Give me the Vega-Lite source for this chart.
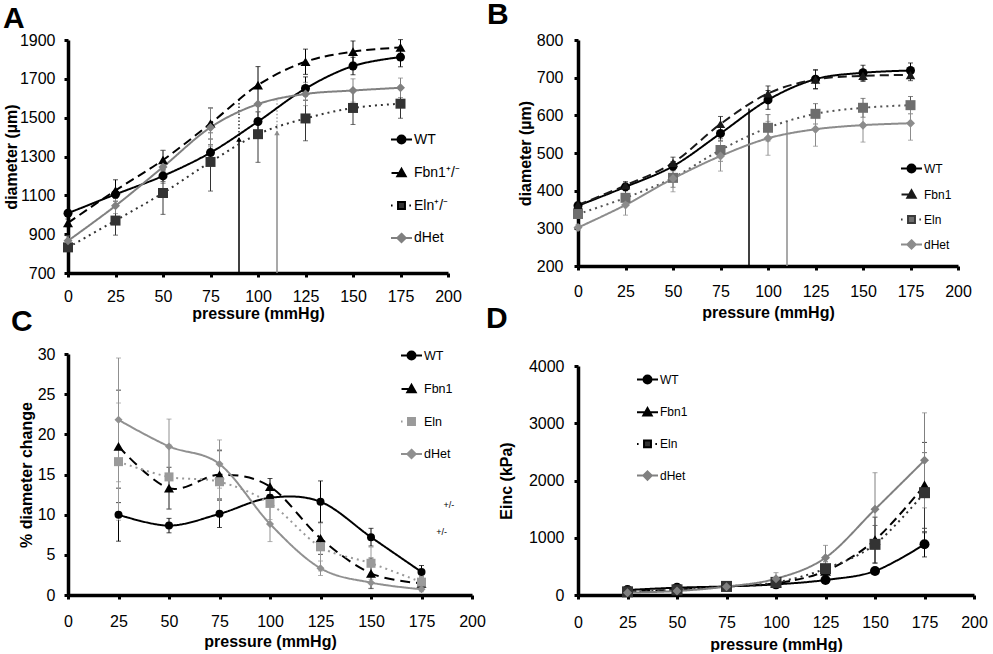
{
"$schema":"https://vega.github.io/schema/vega-lite/v6.json",
"background":"white",
"padding":{"left":3,"top":0,"right":0,"bottom":0},
"datasets":{
"a":[
{"s":"WT","p":0,"v":1008,"e":15},{"s":"WT","p":25,"v":1105,"e":20},{"s":"WT","p":50,"v":1200,"e":30},{"s":"WT","p":75,"v":1320,"e":40},{"s":"WT","p":100,"v":1480,"e":50},{"s":"WT","p":125,"v":1650,"e":60},{"s":"WT","p":150,"v":1766,"e":45},{"s":"WT","p":175,"v":1812,"e":50},
{"s":"Fbn1","p":0,"v":958,"e":20},{"s":"Fbn1","p":25,"v":1125,"e":55},{"s":"Fbn1","p":50,"v":1282,"e":50},{"s":"Fbn1","p":75,"v":1470,"e":80},{"s":"Fbn1","p":100,"v":1668,"e":95},{"s":"Fbn1","p":125,"v":1788,"e":65},{"s":"Fbn1","p":150,"v":1840,"e":55},{"s":"Fbn1","p":175,"v":1862,"e":40},
{"s":"Eln","p":0,"v":832,"e":20},{"s":"Eln","p":25,"v":970,"e":75},{"s":"Eln","p":50,"v":1112,"e":110},{"s":"Eln","p":75,"v":1272,"e":150},{"s":"Eln","p":100,"v":1415,"e":145},{"s":"Eln","p":125,"v":1496,"e":115},{"s":"Eln","p":150,"v":1550,"e":85},{"s":"Eln","p":175,"v":1572,"e":75},
{"s":"dHet","p":0,"v":866,"e":25},{"s":"dHet","p":25,"v":1046,"e":40},{"s":"dHet","p":50,"v":1246,"e":85},{"s":"dHet","p":75,"v":1450,"e":100},{"s":"dHet","p":100,"v":1570,"e":80},{"s":"dHet","p":125,"v":1622,"e":60},{"s":"dHet","p":150,"v":1640,"e":60},{"s":"dHet","p":175,"v":1654,"e":50}
],
"b":[
{"s":"WT","p":0,"v":360,"e":8},{"s":"WT","p":25,"v":410,"e":10},{"s":"WT","p":50,"v":465,"e":12},{"s":"WT","p":75,"v":552,"e":20},{"s":"WT","p":100,"v":641,"e":25},{"s":"WT","p":125,"v":696,"e":25},{"s":"WT","p":150,"v":713,"e":20},{"s":"WT","p":175,"v":719,"e":20},
{"s":"Fbn1","p":0,"v":362,"e":8},{"s":"Fbn1","p":25,"v":414,"e":10},{"s":"Fbn1","p":50,"v":474,"e":15},{"s":"Fbn1","p":75,"v":577,"e":20},{"s":"Fbn1","p":100,"v":658,"e":20},{"s":"Fbn1","p":125,"v":695,"e":25},{"s":"Fbn1","p":150,"v":705,"e":15},{"s":"Fbn1","p":175,"v":707,"e":15},
{"s":"Eln","p":0,"v":338,"e":10},{"s":"Eln","p":25,"v":381,"e":20},{"s":"Eln","p":50,"v":434,"e":25},{"s":"Eln","p":75,"v":508,"e":30},{"s":"Eln","p":100,"v":567,"e":35},{"s":"Eln","p":125,"v":604,"e":27},{"s":"Eln","p":150,"v":620,"e":25},{"s":"Eln","p":175,"v":627,"e":23},
{"s":"dHet","p":0,"v":302,"e":8},{"s":"dHet","p":25,"v":362,"e":27},{"s":"dHet","p":50,"v":432,"e":35},{"s":"dHet","p":75,"v":492,"e":40},{"s":"dHet","p":100,"v":539,"e":45},{"s":"dHet","p":125,"v":563,"e":45},{"s":"dHet","p":150,"v":574,"e":45},{"s":"dHet","p":175,"v":579,"e":45}
],
"c":[
{"s":"WT","p":25,"v":10.0,"e":3.3},{"s":"WT","p":50,"v":8.64,"e":0.9},{"s":"WT","p":75,"v":10.1,"e":1.7},{"s":"WT","p":100,"v":12.1,"e":1.0},{"s":"WT","p":125,"v":11.6,"e":2.6},{"s":"WT","p":150,"v":7.2,"e":1.1},{"s":"WT","p":175,"v":2.87,"e":0.8},
{"s":"Fbn1","p":25,"v":18.5,"e":7.0},{"s":"Fbn1","p":50,"v":13.3,"e":2.6},{"s":"Fbn1","p":75,"v":14.96,"e":3.0},{"s":"Fbn1","p":100,"v":13.5,"e":1.0},{"s":"Fbn1","p":125,"v":7.06,"e":2.0},{"s":"Fbn1","p":150,"v":2.7,"e":1.9},{"s":"Fbn1","p":175,"v":1.45,"e":0.8},
{"s":"Eln","p":25,"v":16.6,"e":7.3},{"s":"Eln","p":50,"v":14.7,"e":4.0},{"s":"Eln","p":75,"v":14.1,"e":4.0},{"s":"Eln","p":100,"v":11.4,"e":2.0},{"s":"Eln","p":125,"v":6.0,"e":3.0},{"s":"Eln","p":150,"v":3.95,"e":2.0},{"s":"Eln","p":175,"v":1.6,"e":1.0},
{"s":"dHet","p":25,"v":21.8,"e":7.7},{"s":"dHet","p":50,"v":18.5,"e":3.4},{"s":"dHet","p":75,"v":16.3,"e":3.0},{"s":"dHet","p":100,"v":8.85,"e":2.2},{"s":"dHet","p":125,"v":3.33,"e":0.9},{"s":"dHet","p":150,"v":1.54,"e":0.7},{"s":"dHet","p":175,"v":0.71,"e":0.3}
],
"d":[
{"s":"WT","p":25,"v":87,"e":15},{"s":"WT","p":50,"v":128,"e":20},{"s":"WT","p":75,"v":150,"e":20},{"s":"WT","p":100,"v":186,"e":30},{"s":"WT","p":125,"v":262,"e":40},{"s":"WT","p":150,"v":419,"e":60},{"s":"WT","p":175,"v":885,"e":220},
{"s":"Fbn1","p":25,"v":60,"e":10},{"s":"Fbn1","p":50,"v":95,"e":15},{"s":"Fbn1","p":75,"v":150,"e":20},{"s":"Fbn1","p":100,"v":205,"e":40},{"s":"Fbn1","p":125,"v":420,"e":100},{"s":"Fbn1","p":150,"v":960,"e":400},{"s":"Fbn1","p":175,"v":1915,"e":750},
{"s":"Eln","p":25,"v":55,"e":10},{"s":"Eln","p":50,"v":90,"e":15},{"s":"Eln","p":75,"v":150,"e":20},{"s":"Eln","p":100,"v":220,"e":50},{"s":"Eln","p":125,"v":460,"e":120},{"s":"Eln","p":150,"v":885,"e":330},{"s":"Eln","p":175,"v":1787,"e":700},
{"s":"dHet","p":25,"v":40,"e":10},{"s":"dHet","p":50,"v":70,"e":15},{"s":"dHet","p":75,"v":146,"e":20},{"s":"dHet","p":100,"v":285,"e":105},{"s":"dHet","p":125,"v":652,"e":215},{"s":"dHet","p":150,"v":1496,"e":640},{"s":"dHet","p":175,"v":2352,"e":830}
],
"arrA":[{"s":"WT","p":90,"v":700,"v2":1388},{"s":"dHet","p":110,"v":700,"v2":1422}],
"arrAdot":[{"s":"WT","p":90,"v":1388,"v2":1600},{"s":"dHet","p":110,"v":1422,"v2":1588}],
"arrB":[{"s":"WT","p":90,"v":200,"v2":618},{"s":"dHet","p":110,"v":200,"v2":585}],
"notesC":[{"p":188.5,"v":11.2,"t":"+/-"},{"p":185,"v":7.8,"t":"+/-"}]
},
"hconcat":[
{"vconcat":[
{
"width":380,"height":233,
"title":{"text":"A","dx":-65,"offset":-2},
"data":{"name":"a"},
"encoding":{
"x":{"field":"p","type":"quantitative","scale":{"domain":[0,200],"nice":false},"axis":{"values":[0,25,50,75,100,125,150,175,200],"format":"d","title":"pressure (mmHg)","labelPadding":11,"titlePadding":1}},
"y":{"field":"v","type":"quantitative","scale":{"domain":[700,1900],"nice":false,"zero":false},"axis":{"values":[700,900,1100,1300,1500,1700,1900],"format":"d","title":"diameter (µm)","labelPadding":9,"titlePadding":0}}
},
"layer":[
{"mark":{"type":"errorbar","ticks":{"size":5},"thickness":1},"encoding":{"yError":{"field":"e"},"color":{"field":"s","type":"nominal","scale":{"range":["#333333","#000000","#000000","#808080"]},"legend":null}}},
{"data":{"name":"arrA"},"transform":[{"filter":"datum.s=='WT'"}],"mark":{"type":"rule","color":"#000000","strokeWidth":1.5},"encoding":{"y2":{"field":"v2"}}},
{"data":{"name":"arrA"},"transform":[{"filter":"datum.s=='dHet'"}],"mark":{"type":"rule","color":"#8c8c8c","strokeWidth":1.5},"encoding":{"y2":{"field":"v2"}}},
{"data":{"name":"arrAdot"},"transform":[{"filter":"datum.s=='WT'"}],"mark":{"type":"rule","color":"#000000","strokeWidth":1.2,"strokeDash":[1.5,2]},"encoding":{"y2":{"field":"v2"}}},
{"data":{"name":"arrAdot"},"transform":[{"filter":"datum.s=='dHet'"}],"mark":{"type":"rule","color":"#8c8c8c","strokeWidth":1.2,"strokeDash":[1.5,2]},"encoding":{"y2":{"field":"v2"}}},
{"data":{"name":"arrAdot"},"transform":[{"filter":"datum.s=='WT'"}],"mark":{"type":"point","shape":"triangle-up","filled":true,"color":"#000000","size":30,"opacity":1}},
{"data":{"name":"arrAdot"},"transform":[{"filter":"datum.s=='dHet'"}],"mark":{"type":"point","shape":"triangle-up","filled":true,"color":"#8c8c8c","size":30,"opacity":1}},
{"mark":{"type":"line","interpolate":"cardinal","strokeWidth":2},"encoding":{"color":{"field":"s","type":"nominal","scale":{"range":["#333333","#000000","#000000","#808080"]},"legend":null},"strokeDash":{"field":"s","type":"nominal","scale":{"range":[[2,4],[9,5],[1,0],[1,0]]},"legend":null}}},
{"transform":[{"filter":"datum.s=='WT'"}],"mark":{"type":"point","shape":"circle","filled":true,"color":"#000000","size":81,"opacity":1}},
{"transform":[{"filter":"datum.s=='Fbn1'"}],"mark":{"type":"point","shape":"triangle-up","filled":true,"color":"#000000","size":100,"opacity":1}},
{"transform":[{"filter":"datum.s=='Eln'"}],"mark":{"type":"point","shape":"square","filled":true,"color":"#333333","size":100,"opacity":1}},
{"transform":[{"filter":"datum.s=='dHet'"}],"mark":{"type":"point","shape":"diamond","filled":true,"color":"#808080","size":81,"opacity":1}},
{"mark":{"type":"point","opacity":0,"filled":true},"encoding":{
"fill":{"field":"s","type":"nominal","scale":{"domain":["WT","Fbn1","Eln","dHet"],"range":["#000000","#000000","#333333","#808080"]},"legend":{"orient":"none","legendX":322,"legendY":88,"title":null,"symbolSize":441,"labelFontSize":14,"rowPadding":13.5,"labelExpr":"datum.label=='Fbn1'?'Fbn1⁺/⁻':datum.label=='Eln'?'Eln⁺/⁻':datum.label"}},
"stroke":{"field":"s","type":"nominal","scale":{"domain":["WT","Fbn1","Eln","dHet"],"range":["#000000","#000000","#000000","#808080"]},"legend":{"orient":"none","legendX":322,"legendY":88,"title":null,"symbolSize":441,"labelFontSize":14,"rowPadding":13.5,"labelExpr":"datum.label=='Fbn1'?'Fbn1⁺/⁻':datum.label=='Eln'?'Eln⁺/⁻':datum.label"}},
"shape":{"field":"s","type":"nominal","scale":{"domain":["WT","Fbn1","Eln","dHet"],"range":["M-1,0H1M-0.38,0A0.38,0.38,0,1,0,0.38,0A0.38,0.38,0,1,0,-0.38,0Z","M-0.95,0H-0.3M-0.4,0.32L0,-0.4L0.4,0.32Z","M-1,0H-0.85M-0.33,-0.33H0.33V0.33H-0.33ZM0.75,0H0.9","M-1,0H1M0,-0.4L0.4,0L0,0.4L-0.4,0Z"]},"legend":{"orient":"none","legendX":322,"legendY":88,"title":null,"symbolSize":441,"labelFontSize":14,"rowPadding":13.5,"labelExpr":"datum.label=='Fbn1'?'Fbn1⁺/⁻':datum.label=='Eln'?'Eln⁺/⁻':datum.label"}}
}}
]
},
{
"width":404,"height":241,
"title":{"text":"C","dx":-57,"offset":7},
"data":{"name":"c"},
"encoding":{
"x":{"field":"p","type":"quantitative","scale":{"domain":[0,200],"nice":false},"axis":{"values":[0,25,50,75,100,125,150,175,200],"format":"d","title":"pressure (mmHg)","labelPadding":14,"titlePadding":4}},
"y":{"field":"v","type":"quantitative","scale":{"domain":[0,30],"nice":false,"zero":false},"axis":{"values":[0,5,10,15,20,25,30],"format":"d","title":"% diameter change","labelPadding":9,"titlePadding":3}}
},
"layer":[
{"mark":{"type":"errorbar","ticks":{"size":5},"thickness":1},"encoding":{"yError":{"field":"e"},"color":{"field":"s","type":"nominal","scale":{"range":["#9a9a9a","#000000","#000000","#909090"]},"legend":null}}},
{"mark":{"type":"line","interpolate":"cardinal","strokeWidth":2},"encoding":{"color":{"field":"s","type":"nominal","scale":{"range":["#9a9a9a","#000000","#000000","#909090"]},"legend":null},"strokeDash":{"field":"s","type":"nominal","scale":{"range":[[2,4],[10,6],[1,0],[1,0]]},"legend":null}}},
{"transform":[{"filter":"datum.s=='WT'"}],"mark":{"type":"point","shape":"circle","filled":true,"color":"#000000","size":64,"opacity":1}},
{"transform":[{"filter":"datum.s=='Fbn1'"}],"mark":{"type":"point","shape":"triangle-up","filled":true,"color":"#000000","size":100,"opacity":1}},
{"transform":[{"filter":"datum.s=='Eln'"}],"mark":{"type":"point","shape":"square","filled":true,"color":"#9a9a9a","size":81,"opacity":1}},
{"transform":[{"filter":"datum.s=='dHet'"}],"mark":{"type":"point","shape":"diamond","filled":true,"color":"#909090","size":64,"opacity":1}},
{"data":{"name":"notesC"},"mark":{"type":"text","fontSize":9,"color":"#000000","font":"Liberation Sans"},"encoding":{"text":{"field":"t"}}},
{"mark":{"type":"point","opacity":0,"filled":true},"encoding":{
"fill":{"field":"s","type":"nominal","scale":{"domain":["WT","Fbn1","Eln","dHet"],"range":["#000000","#000000","#9a9a9a","#909090"]},"legend":{"orient":"none","legendX":332,"legendY":-10,"title":null,"symbolSize":441,"labelFontSize":12.5,"rowPadding":13.5}},
"stroke":{"field":"s","type":"nominal","scale":{"domain":["WT","Fbn1","Eln","dHet"],"range":["#000000","#000000","#9a9a9a","#909090"]},"legend":{"orient":"none","legendX":332,"legendY":-10,"title":null,"symbolSize":441,"labelFontSize":12.5,"rowPadding":13.5}},
"shape":{"field":"s","type":"nominal","scale":{"domain":["WT","Fbn1","Eln","dHet"],"range":["M-1,0H1M-0.38,0A0.38,0.38,0,1,0,0.38,0A0.38,0.38,0,1,0,-0.38,0Z","M-0.95,0H-0.3M-0.4,0.32L0,-0.4L0.4,0.32Z","M-1,0H-0.85M-0.33,-0.33H0.33V0.33H-0.33Z","M-1,0H1M0,-0.4L0.4,0L0,0.4L-0.4,0Z"]},"legend":{"orient":"none","legendX":332,"legendY":-10,"title":null,"symbolSize":441,"labelFontSize":12.5,"rowPadding":13.5}}
}}
]
}
],"spacing":-14,"align":"none",
"resolve":{"scale":{"color":"independent","fill":"independent","stroke":"independent","shape":"independent","strokeDash":"independent"},"legend":{"fill":"independent","stroke":"independent","shape":"independent"}}},
{"vconcat":[
{
"width":380,"height":226,
"title":{"text":"B","dx":-91,"offset":2},
"data":{"name":"b"},
"encoding":{
"x":{"field":"p","type":"quantitative","scale":{"domain":[0,200],"nice":false},"axis":{"values":[0,25,50,75,100,125,150,175,200],"format":"d","title":"pressure (mmHg)","labelPadding":13,"titlePadding":5}},
"y":{"field":"v","type":"quantitative","scale":{"domain":[200,800],"nice":false,"zero":false},"axis":{"values":[200,300,400,500,600,700,800],"format":"d","title":"diameter (µm)","labelPadding":11,"titlePadding":3}}
},
"layer":[
{"mark":{"type":"errorbar","ticks":{"size":5},"thickness":1},"encoding":{"yError":{"field":"e"},"color":{"field":"s","type":"nominal","scale":{"range":["#555555","#1a1a1a","#000000","#8c8c8c"]},"legend":null}}},
{"data":{"name":"arrB"},"transform":[{"filter":"datum.s=='WT'"}],"mark":{"type":"rule","color":"#000000","strokeWidth":1.5},"encoding":{"y2":{"field":"v2"}}},
{"data":{"name":"arrB"},"transform":[{"filter":"datum.s=='dHet'"}],"mark":{"type":"rule","color":"#8c8c8c","strokeWidth":1.5},"encoding":{"y2":{"field":"v2"}}},
{"mark":{"type":"line","interpolate":"cardinal","strokeWidth":2},"encoding":{"color":{"field":"s","type":"nominal","scale":{"range":["#555555","#1a1a1a","#000000","#8c8c8c"]},"legend":null},"strokeDash":{"field":"s","type":"nominal","scale":{"range":[[2,4],[9,5],[1,0],[1,0]]},"legend":null}}},
{"transform":[{"filter":"datum.s=='WT'"}],"mark":{"type":"point","shape":"circle","filled":true,"color":"#000000","size":81,"opacity":1}},
{"transform":[{"filter":"datum.s=='Fbn1'"}],"mark":{"type":"point","shape":"triangle-up","filled":true,"color":"#1a1a1a","size":90,"opacity":1}},
{"transform":[{"filter":"datum.s=='Eln'"}],"mark":{"type":"point","shape":"square","filled":true,"color":"#6e6e6e","size":100,"opacity":1}},
{"transform":[{"filter":"datum.s=='dHet'"}],"mark":{"type":"point","shape":"diamond","filled":true,"color":"#8c8c8c","size":81,"opacity":1}},
{"mark":{"type":"point","opacity":0,"filled":true},"encoding":{
"fill":{"field":"s","type":"nominal","scale":{"domain":["WT","Fbn1","Eln","dHet"],"range":["#000000","#1a1a1a","#6e6e6e","#8c8c8c"]},"legend":{"orient":"none","legendX":322,"legendY":117,"title":null,"symbolSize":441,"labelFontSize":12,"rowPadding":6}},
"stroke":{"field":"s","type":"nominal","scale":{"domain":["WT","Fbn1","Eln","dHet"],"range":["#000000","#1a1a1a","#3a3a3a","#8c8c8c"]},"legend":{"orient":"none","legendX":322,"legendY":117,"title":null,"symbolSize":441,"labelFontSize":12,"rowPadding":6}},
"shape":{"field":"s","type":"nominal","scale":{"domain":["WT","Fbn1","Eln","dHet"],"range":["M-1,0H1M-0.38,0A0.38,0.38,0,1,0,0.38,0A0.38,0.38,0,1,0,-0.38,0Z","M-0.95,0H-0.3M-0.4,0.32L0,-0.4L0.4,0.32Z","M-1,0H-0.85M-0.33,-0.33H0.33V0.33H-0.33ZM0.75,0H0.9","M-1,0H1M0,-0.4L0.4,0L0,0.4L-0.4,0Z"]},"legend":{"orient":"none","legendX":322,"legendY":117,"title":null,"symbolSize":441,"labelFontSize":12,"rowPadding":6}}
}}
]
},
{
"width":396,"height":229,
"title":{"text":"D","dx":-92,"offset":24},
"data":{"name":"d"},
"encoding":{
"x":{"field":"p","type":"quantitative","scale":{"domain":[0,200],"nice":false},"axis":{"values":[0,25,50,75,100,125,150,175,200],"format":"d","title":"pressure (mmHg)","labelPadding":15,"titlePadding":6}},
"y":{"field":"v","type":"quantitative","scale":{"domain":[0,4000],"nice":false,"zero":false},"axis":{"values":[0,1000,2000,3000,4000],"format":"d","title":"Einc (kPa)","labelPadding":10,"titlePadding":14}}
},
"layer":[
{"mark":{"type":"errorbar","ticks":{"size":5},"thickness":1},"encoding":{"yError":{"field":"e"},"color":{"field":"s","type":"nominal","scale":{"range":["#333333","#000000","#000000","#808080"]},"legend":null}}},
{"mark":{"type":"line","interpolate":"cardinal","strokeWidth":2},"encoding":{"color":{"field":"s","type":"nominal","scale":{"range":["#333333","#000000","#000000","#808080"]},"legend":null},"strokeDash":{"field":"s","type":"nominal","scale":{"range":[[2,4],[9,5],[1,0],[1,0]]},"legend":null}}},
{"transform":[{"filter":"datum.s=='WT'"}],"mark":{"type":"point","shape":"circle","filled":true,"color":"#000000","size":100,"opacity":1}},
{"transform":[{"filter":"datum.s=='Fbn1'"}],"mark":{"type":"point","shape":"triangle-up","filled":true,"color":"#000000","size":121,"opacity":1}},
{"transform":[{"filter":"datum.s=='Eln'"}],"mark":{"type":"point","shape":"square","filled":true,"color":"#333333","size":121,"opacity":1}},
{"transform":[{"filter":"datum.s=='dHet'"}],"mark":{"type":"point","shape":"diamond","filled":true,"color":"#808080","size":81,"opacity":1}},
{"mark":{"type":"point","opacity":0,"filled":true},"encoding":{
"fill":{"field":"s","type":"nominal","scale":{"domain":["WT","Fbn1","Eln","dHet"],"range":["#000000","#000000","#333333","#808080"]},"legend":{"orient":"none","legendX":58,"legendY":2,"title":null,"symbolSize":441,"labelFontSize":12,"rowPadding":12.7}},
"stroke":{"field":"s","type":"nominal","scale":{"domain":["WT","Fbn1","Eln","dHet"],"range":["#000000","#000000","#000000","#808080"]},"legend":{"orient":"none","legendX":58,"legendY":2,"title":null,"symbolSize":441,"labelFontSize":12,"rowPadding":12.7}},
"shape":{"field":"s","type":"nominal","scale":{"domain":["WT","Fbn1","Eln","dHet"],"range":["M-1,0H1M-0.38,0A0.38,0.38,0,1,0,0.38,0A0.38,0.38,0,1,0,-0.38,0Z","M-1,0H1M-0.4,0.32L0,-0.4L0.4,0.32Z","M-1,0H-0.85M-0.33,-0.33H0.33V0.33H-0.33ZM0.75,0H0.9","M-1,0H1M0,-0.4L0.4,0L0,0.4L-0.4,0Z"]},"legend":{"orient":"none","legendX":58,"legendY":2,"title":null,"symbolSize":441,"labelFontSize":12,"rowPadding":12.7}}
}}
]
}
],"spacing":-16,"align":"none",
"resolve":{"scale":{"color":"independent","fill":"independent","stroke":"independent","shape":"independent","strokeDash":"independent"},"legend":{"fill":"independent","stroke":"independent","shape":"independent"}}}
],
"spacing":0,"align":"none",
"resolve":{"scale":{"color":"independent","fill":"independent","stroke":"independent","shape":"independent","strokeDash":"independent"},"legend":{"fill":"independent","stroke":"independent","shape":"independent"}},
"config":{
"font":"Liberation Sans",
"view":{"stroke":null},
"axis":{"grid":false,"domainColor":"#000000","domainWidth":3.5,"tickColor":"#000000","tickWidth":3,"tickSize":4,"labelFont":"Liberation Sans","labelFontSize":16,"labelColor":"#000000","labelFlush":false,"labelOverlap":false,"titleFont":"Liberation Sans","titleFontSize":16,"titleFontWeight":"bold","titleColor":"#000000"},
"legend":{"padding":0,"labelFont":"Liberation Sans","labelColor":"#000000","symbolStrokeWidth":2,"labelOffset":1,"symbolOpacity":1},
"title":{"font":"Liberation Sans","fontSize":30,"fontWeight":"bold","anchor":"start","frame":"group","baseline":"alphabetic","color":"#000000"}
}
}
